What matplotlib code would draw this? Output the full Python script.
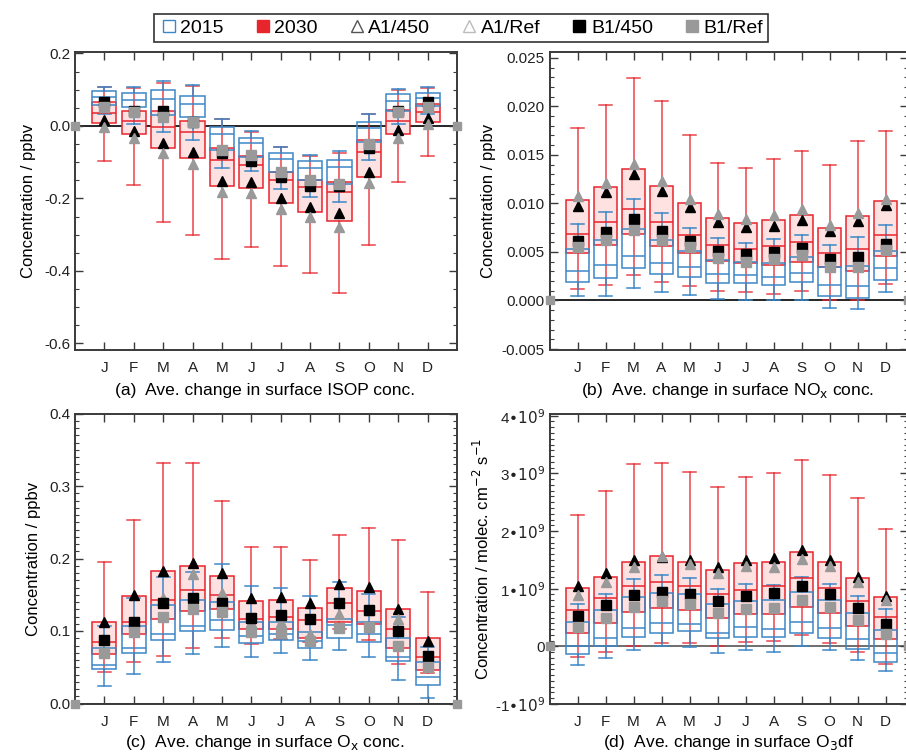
import numpy as np
import matplotlib
matplotlib.use("Agg")
import matplotlib.pyplot as plt
from matplotlib.lines import Line2D
from matplotlib.ticker import MultipleLocator

plt.rcParams['font.family'] = ['Liberation Sans', 'DejaVu Sans']
plt.rcParams['axes.unicode_minus'] = False

months = ['J', 'F', 'M', 'A', 'M', 'J', 'J', 'A', 'S', 'O', 'N', 'D']
legend_labels = ['2015', '2030', 'A1/450', 'A1/Ref', 'B1/450', 'B1/Ref']

# (a) ISOP, ppbv
isop_2015 = dict(
    whishi=[0.108, 0.108, 0.124, 0.113, 0.020, -0.014, -0.057, -0.080, -0.069, 0.033, 0.102, 0.107],
    q3=[0.097, 0.090, 0.099, 0.084, -0.004, -0.032, -0.075, -0.097, -0.094, 0.012, 0.087, 0.090],
    med=[0.079, 0.072, 0.074, 0.060, -0.022, -0.048, -0.092, -0.117, -0.114, -0.006, 0.069, 0.076],
    q1=[0.058, 0.052, 0.030, 0.026, -0.066, -0.086, -0.126, -0.149, -0.161, -0.043, 0.042, 0.055],
    whislo=[0.032, 0.005, -0.016, -0.039, -0.117, -0.124, -0.174, -0.195, -0.211, -0.094, 0.005, 0.032],
)
isop_2030 = dict(
    whishi=[0.107, 0.104, 0.118, 0.111, 0.019, -0.017, -0.059, -0.082, -0.074, 0.032, 0.100, 0.104],
    q3=[0.065, 0.040, 0.040, 0.015, -0.062, -0.083, -0.128, -0.149, -0.155, -0.040, 0.045, 0.061],
    med=[0.035, 0.015, -0.004, -0.018, -0.094, -0.108, -0.150, -0.169, -0.183, -0.072, 0.015, 0.038],
    q1=[0.009, -0.023, -0.062, -0.089, -0.167, -0.170, -0.213, -0.236, -0.261, -0.142, -0.022, 0.012],
    whislo=[-0.097, -0.163, -0.264, -0.301, -0.367, -0.333, -0.386, -0.405, -0.460, -0.329, -0.154, -0.083],
)
isop_a1_450 = [0.017, -0.013, -0.046, -0.071, -0.152, -0.155, -0.200, -0.223, -0.241, -0.126, -0.011, 0.021]
isop_a1_ref = [-0.002, -0.034, -0.075, -0.105, -0.183, -0.186, -0.230, -0.250, -0.278, -0.158, -0.034, 0.005]
isop_b1_450 = [0.065, 0.040, 0.040, 0.012, -0.075, -0.096, -0.142, -0.165, -0.165, -0.060, 0.042, 0.067]
isop_b1_ref = [0.052, 0.038, 0.026, 0.010, -0.066, -0.080, -0.126, -0.149, -0.159, -0.050, 0.038, 0.053]

# (b) NOx, ppbv
nox_2015 = dict(
    whishi=[0.0079, 0.0091, 0.0105, 0.0090, 0.0075, 0.0064, 0.0059, 0.0063, 0.0067, 0.0057, 0.0065, 0.0078],
    q3=[0.0053, 0.0062, 0.0074, 0.0062, 0.0051, 0.0042, 0.0040, 0.0039, 0.0045, 0.0034, 0.0036, 0.0051],
    med=[0.0030, 0.0037, 0.0046, 0.0039, 0.0034, 0.0027, 0.0026, 0.0024, 0.0028, 0.0016, 0.0015, 0.0033],
    q1=[0.0019, 0.0023, 0.0033, 0.0027, 0.0024, 0.0018, 0.0018, 0.0016, 0.0019, 0.0005, 0.0003, 0.0021],
    whislo=[0.0005, 0.0005, 0.0013, 0.0009, 0.0006, 0.0002, 0.0000, 0.0000, 0.0001, -0.0008, -0.0009, 0.0009],
)
nox_2030 = dict(
    whishi=[0.0178, 0.0201, 0.0229, 0.0206, 0.0171, 0.0142, 0.0136, 0.0146, 0.0154, 0.0140, 0.0164, 0.0175],
    q3=[0.0104, 0.0117, 0.0135, 0.0118, 0.0100, 0.0085, 0.0080, 0.0083, 0.0088, 0.0075, 0.0087, 0.0103],
    med=[0.0069, 0.0081, 0.0094, 0.0081, 0.0067, 0.0057, 0.0053, 0.0056, 0.0060, 0.0049, 0.0053, 0.0067],
    q1=[0.0049, 0.0057, 0.0069, 0.0056, 0.0049, 0.0041, 0.0039, 0.0037, 0.0040, 0.0034, 0.0030, 0.0046],
    whislo=[0.0012, 0.0016, 0.0026, 0.0019, 0.0015, 0.0010, 0.0009, 0.0007, 0.0010, 0.0000, 0.0000, 0.0017],
)
nox_a1_450 = [0.0097, 0.0112, 0.0130, 0.0113, 0.0096, 0.0081, 0.0076, 0.0077, 0.0083, 0.0072, 0.0082, 0.0098]
nox_a1_ref = [0.0108, 0.0121, 0.0141, 0.0123, 0.0105, 0.0089, 0.0084, 0.0088, 0.0094, 0.0078, 0.0090, 0.0105]
nox_b1_450 = [0.0061, 0.0071, 0.0084, 0.0072, 0.0061, 0.0051, 0.0048, 0.0050, 0.0054, 0.0043, 0.0045, 0.0058]
nox_b1_ref = [0.0055, 0.0062, 0.0073, 0.0062, 0.0055, 0.0044, 0.0040, 0.0043, 0.0047, 0.0035, 0.0035, 0.0052]

# (c) Ox, ppbv
ox_2015 = dict(
    whishi=[0.107, 0.145, 0.175, 0.181, 0.192, 0.162, 0.159, 0.148, 0.168, 0.151, 0.119, 0.078],
    q3=[0.076, 0.107, 0.136, 0.143, 0.140, 0.112, 0.112, 0.099, 0.116, 0.113, 0.090, 0.057],
    med=[0.053, 0.076, 0.096, 0.107, 0.115, 0.093, 0.096, 0.086, 0.108, 0.096, 0.064, 0.037],
    q1=[0.047, 0.070, 0.088, 0.100, 0.102, 0.084, 0.088, 0.076, 0.091, 0.085, 0.058, 0.025],
    whislo=[0.024, 0.041, 0.057, 0.068, 0.078, 0.064, 0.070, 0.060, 0.074, 0.064, 0.033, 0.008],
)
ox_2030 = dict(
    whishi=[0.195, 0.253, 0.332, 0.332, 0.279, 0.216, 0.216, 0.198, 0.232, 0.242, 0.225, 0.154],
    q3=[0.113, 0.148, 0.183, 0.190, 0.176, 0.142, 0.143, 0.132, 0.159, 0.155, 0.130, 0.090],
    med=[0.085, 0.112, 0.143, 0.156, 0.149, 0.116, 0.120, 0.115, 0.138, 0.127, 0.103, 0.064],
    q1=[0.068, 0.096, 0.116, 0.127, 0.131, 0.103, 0.103, 0.091, 0.112, 0.110, 0.077, 0.046],
    whislo=[0.043, 0.057, 0.066, 0.076, 0.090, 0.082, 0.089, 0.085, 0.103, 0.088, 0.054, 0.042],
)
ox_a1_450 = [0.113, 0.149, 0.183, 0.194, 0.180, 0.146, 0.147, 0.139, 0.165, 0.161, 0.131, 0.086]
ox_a1_ref = [0.087, 0.113, 0.146, 0.179, 0.152, 0.112, 0.113, 0.096, 0.124, 0.129, 0.117, 0.066]
ox_b1_450 = [0.087, 0.113, 0.138, 0.146, 0.139, 0.118, 0.122, 0.116, 0.138, 0.129, 0.100, 0.065]
ox_b1_ref = [0.069, 0.098, 0.120, 0.130, 0.126, 0.099, 0.097, 0.086, 0.104, 0.105, 0.080, 0.050]

# (d) O3 dry deposition flux, 1e9 molec cm-2 s-1
o3df_2015 = dict(
    whishi=[0.73, 0.91, 1.16, 1.24, 1.18, 0.99, 1.09, 1.06, 1.20, 1.09, 0.87, 0.65],
    q3=[0.43, 0.63, 0.85, 0.93, 0.90, 0.73, 0.79, 0.80, 0.95, 0.81, 0.58, 0.28],
    med=[0.0, 0.15, 0.32, 0.40, 0.38, 0.23, 0.33, 0.30, 0.43, 0.31, 0.12, -0.12],
    q1=[-0.13, 0.0, 0.16, 0.23, 0.27, 0.14, 0.17, 0.16, 0.24, 0.15, -0.04, -0.28],
    whislo=[-0.33, -0.21, -0.06, 0.0, -0.01, -0.12, -0.06, -0.09, 0.0, -0.06, -0.23, -0.43],
)
o3df_2030 = dict(
    whishi=[2.28, 2.69, 3.16, 3.18, 3.02, 2.76, 2.93, 3.01, 3.24, 2.98, 2.57, 2.04],
    q3=[1.01, 1.21, 1.46, 1.56, 1.47, 1.32, 1.44, 1.47, 1.63, 1.46, 1.18, 0.85],
    med=[0.63, 0.83, 1.04, 1.11, 1.04, 0.90, 0.98, 1.04, 1.19, 1.02, 0.79, 0.51],
    q1=[0.24, 0.41, 0.59, 0.67, 0.63, 0.49, 0.56, 0.56, 0.68, 0.57, 0.36, 0.12],
    whislo=[-0.19, -0.10, 0.0, 0.06, 0.06, 0.0, 0.08, 0.10, 0.19, 0.06, -0.10, -0.31],
)
o3df_a1_450 = [1.04, 1.28, 1.50, 1.55, 1.49, 1.38, 1.49, 1.53, 1.67, 1.50, 1.21, 0.88]
o3df_a1_ref = [0.89, 1.11, 1.38, 1.56, 1.43, 1.27, 1.39, 1.37, 1.51, 1.39, 1.11, 0.80]
o3df_b1_450 = [0.53, 0.72, 0.89, 0.94, 0.91, 0.79, 0.88, 0.93, 1.05, 0.90, 0.67, 0.39]
o3df_b1_ref = [0.33, 0.50, 0.69, 0.78, 0.73, 0.57, 0.65, 0.67, 0.80, 0.69, 0.46, 0.21]

BLUE = '#3d87c6'
RED = '#e8242c'
PINK = '#fde2e1'
GREY = '#999999'
DARK = '#3a3a3a'

fig = plt.figure(figsize=(9.06, 7.55), dpi=100)
W, H = 906.0, 755.0


def make_axes(left, right, top, bottom):
    return fig.add_axes([left / W, 1 - bottom / H, (right - left) / W, (bottom - top) / H])


def to_stats(d, scale=1.0):
    return [dict(whislo=d['whislo'][i] * scale, q1=d['q1'][i] * scale, med=d['med'][i] * scale,
                 q3=d['q3'][i] * scale, whishi=d['whishi'][i] * scale) for i in range(12)]


def draw_panel(ax, s2015, s2030, a450, aref, b450, bref, xmax, ylim, scale=1.0, zero_col='black'):
    x = np.arange(1, 13)
    sc = np.array
    ax.bxp(to_stats(s2030, scale), positions=x, widths=0.82, capwidths=0.45,
           showfliers=False, patch_artist=True, manage_ticks=False,
           boxprops=dict(facecolor=PINK, edgecolor=RED, linewidth=1.1),
           medianprops=dict(color=RED, linewidth=1.1),
           whiskerprops=dict(color=RED, linewidth=1.1, alpha=0.85),
           capprops=dict(color=RED, linewidth=1.1, alpha=0.85))
    ax.bxp(to_stats(s2015, scale), positions=x, widths=0.82, capwidths=0.45,
           showfliers=False, patch_artist=True, manage_ticks=False,
           boxprops=dict(facecolor='none', edgecolor=BLUE, linewidth=1.1),
           medianprops=dict(color=BLUE, linewidth=1.1),
           whiskerprops=dict(color=BLUE, linewidth=1.1),
           capprops=dict(color=BLUE, linewidth=1.1))
    ax.plot(x, sc(a450) * scale, '^', color='black', ms=7, zorder=4)
    ax.plot(x, sc(aref) * scale, '^', color=GREY, ms=7, zorder=4)
    ax.plot(x, sc(b450) * scale, 's', color='black', ms=7, zorder=4)
    ax.plot(x, sc(bref) * scale, 's', color=GREY, ms=7, zorder=4)
    ax.axhline(0, color=zero_col, lw=1.2, zorder=1.5)
    ax.set_xlim(0, xmax)
    ax.set_ylim(*ylim)
    ax.plot([0, xmax], [0, 0], 's', color=GREY, ms=6, clip_on=False, zorder=5)
    ax.set_xticks(x)
    ax.set_xticklabels(months)
    ax.tick_params(which='both', direction='in', top=True, right=True, colors=DARK,
                   labelcolor='#222222', labelsize=11)
    ax.tick_params(which='major', length=6, width=1)
    ax.tick_params(which='minor', length=3, width=0.8)
    ax.tick_params(axis='x', pad=8)
    for sp in ax.spines.values():
        sp.set_color(DARK)
        sp.set_linewidth(1.4)


ax_a = make_axes(75, 457, 52, 350)
draw_panel(ax_a, isop_2015, isop_2030, isop_a1_450, isop_a1_ref, isop_b1_450, isop_b1_ref,
           13, (-0.618, 0.204))
ax_a.set_yticks([-0.6, -0.4, -0.2, 0.0, 0.2])
ax_a.yaxis.set_major_formatter(plt.FormatStrFormatter('%.1f'))
ax_a.yaxis.set_minor_locator(MultipleLocator(0.05))
ax_a.set_ylabel('Concentration / ppbv', fontsize=12, labelpad=6)

ax_b = make_axes(549.5, 908, 52, 350)
draw_panel(ax_b, nox_2015, nox_2030, nox_a1_450, nox_a1_ref, nox_b1_450, nox_b1_ref,
           12.8, (-0.0051, 0.0256))
ax_b.set_yticks([-0.005, 0.0, 0.005, 0.010, 0.015, 0.020, 0.025])
ax_b.yaxis.set_major_formatter(plt.FormatStrFormatter('%.3f'))
ax_b.yaxis.set_minor_locator(MultipleLocator(0.001))
ax_b.set_ylabel('Concentration / ppbv', fontsize=12, labelpad=4)

ax_c = make_axes(75, 457, 413.5, 703.5)
draw_panel(ax_c, ox_2015, ox_2030, ox_a1_450, ox_a1_ref, ox_b1_450, ox_b1_ref,
           13, (0.0, 0.4))
ax_c.set_yticks([0.0, 0.1, 0.2, 0.3, 0.4])
ax_c.yaxis.set_major_formatter(plt.FormatStrFormatter('%.1f'))
ax_c.yaxis.set_minor_locator(MultipleLocator(0.01))
ax_c.set_ylabel('Concentration / ppbv', fontsize=12, labelpad=6)

ax_d = make_axes(549.5, 908, 414, 704)
draw_panel(ax_d, o3df_2015, o3df_2030, o3df_a1_450, o3df_a1_ref, o3df_b1_450, o3df_b1_ref,
           12.8, (-1.0e9, 4.03e9), scale=1e9, zero_col='#555555')
d_ticks = [-1, 0, 1, 2, 3, 4]
ax_d.set_yticks([t * 1e9 for t in d_ticks],
                ['0' if t == 0 else '%d\u2022$10^9$' % t for t in d_ticks])
ax_d.yaxis.set_minor_locator(MultipleLocator(0.1e9))
ax_d.set_ylabel('Concentration / molec. cm$^{-2}$ s$^{-1}$', fontsize=12, labelpad=2)

fig.text(265 / W, 1 - 390 / H, '(a)  Ave. change in surface ISOP conc.', ha='center', va='center', fontsize=12.5)
fig.text(728 / W, 1 - 390 / H, '(b)  Ave. change in surface NO$_\\mathrm{x}$ conc.', ha='center', va='center', fontsize=12.5)
fig.text(265 / W, 1 - 742 / H, '(c)  Ave. change in surface O$_\\mathrm{x}$ conc.', ha='center', va='center', fontsize=12.5)
fig.text(728 / W, 1 - 742 / H, '(d)  Ave. change in surface O$_3$df', ha='center', va='center', fontsize=12.5)

handles = [
    Line2D([], [], marker='s', ls='none', mfc='none', mec=BLUE, ms=9),
    Line2D([], [], marker='s', ls='none', mfc=RED, mec=RED, ms=9),
    Line2D([], [], marker='^', ls='none', mfc='none', mec='#555555', ms=9),
    Line2D([], [], marker='^', ls='none', mfc='none', mec='#bbbbbb', ms=9),
    Line2D([], [], marker='s', ls='none', mfc='black', mec='black', ms=9),
    Line2D([], [], marker='s', ls='none', mfc=GREY, mec=GREY, ms=9),
]
leg = fig.legend(handles, legend_labels, loc='center', bbox_to_anchor=(461 / W, 1 - 28 / H),
                 ncol=6, frameon=True, fancybox=False, fontsize=14, handletextpad=0.1,
                 columnspacing=1.5, borderpad=0.25, handlelength=1.0)
leg.get_frame().set_edgecolor('black')
leg.get_frame().set_linewidth(1.2)

fig.savefig('out.png', dpi=100)
